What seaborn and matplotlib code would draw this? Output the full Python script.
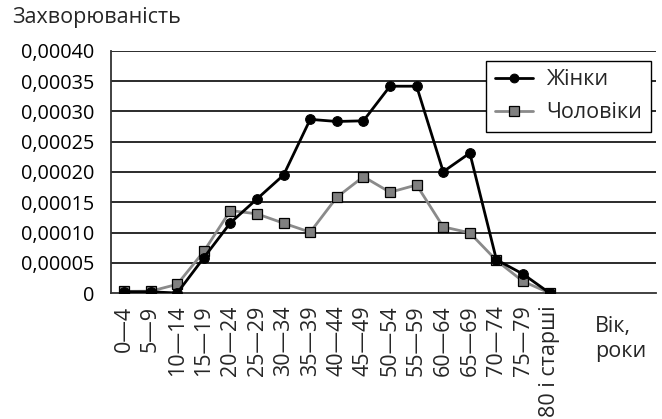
import matplotlib
matplotlib.use("Agg")
import matplotlib.pyplot as plt
import seaborn as sns
import pandas as pd
import numpy as np
from matplotlib.ticker import FuncFormatter, FixedLocator

categories = ["0—4", "5—9", "10—14", "15—19", "20—24", "25—29", "30—34", "35—39",
              "40—44", "45—49", "50—54", "55—59", "60—64", "65—69", "70—74", "75—79",
              "80 і старші"]
women = [0.000002, 0.000002, 0.0, 0.0000582, 0.000116, 0.0001555, 0.000195, 0.000287,
         0.0002835, 0.0002846, 0.0003418, 0.0003418, 0.0002005, 0.0002313, 0.000055,
         0.0000313, 0.0]
men = [0.0000027, 0.000003, 0.0000143, 0.0000687, 0.0001363, 0.0001308, 0.0001154,
       0.0001005, 0.0001582, 0.0001923, 0.0001665, 0.0001786, 0.0001093, 0.0000995,
       0.0000538, 0.0000192, 0.0]
series_names = ["Жінки", "Чоловіки"]
y_ticks = [0, 0.00005, 0.0001, 0.00015, 0.0002, 0.00025, 0.0003, 0.00035, 0.0004]

sns.set_theme(style="white")
plt.rcParams['font.family'] = ['Open Sans', 'DejaVu Sans']

df = pd.DataFrame({
    "idx": list(range(len(categories))) * 2,
    "value": women + men,
    "series": [series_names[0]] * len(women) + [series_names[1]] * len(men),
})

fig = plt.figure(figsize=(6.62, 4.19), dpi=100)
ax = fig.add_axes([0.1672, 0.3007, 0.8238, 0.5776])

fs = 15.5
for y in y_ticks[1:]:
    ax.axhline(y, color="#1a1a1a", lw=1.3, zorder=1)

sns.lineplot(data=df[df.series == series_names[1]], x="idx", y="value", ax=ax,
             color="#8a8a8a", lw=2, marker="s", markersize=7.5,
             markerfacecolor="#808080", markeredgecolor="#000000", markeredgewidth=0.9,
             label=series_names[1], zorder=3)
sns.lineplot(data=df[df.series == series_names[0]], x="idx", y="value", ax=ax,
             color="#000000", lw=2, marker="o", markersize=7,
             markerfacecolor="#000000", markeredgecolor="#000000",
             label=series_names[0], zorder=4)

ax.set_xlim(-0.5, 20.0)
ax.set_ylim(0, 0.0004)
ax.set_yticks(y_ticks)
ax.yaxis.set_major_formatter(FuncFormatter(lambda v, p: "0" if v == 0 else f"{v:.5f}".replace(".", ",")))
ax.xaxis.set_major_locator(FixedLocator(list(np.arange(-0.5, len(categories), 1.0))))
ax.set_xticklabels([])
ax.set_xticks(range(len(categories)), minor=True)
ax.set_xticklabels(categories, minor=True, rotation=90, fontsize=fs)
ax.tick_params(axis="x", which="major", length=6, width=1.2, color="#333333", direction="out")
ax.tick_params(axis="x", which="minor", length=0, pad=9)
ax.tick_params(axis="y", length=6.5, width=1.2, color="#333333", labelsize=14.3, pad=5)
ax.tick_params(labelcolor="#000000")

for s in ["top", "right"]:
    ax.spines[s].set_visible(False)
for s in ["left", "bottom"]:
    ax.spines[s].set_color("#333333")
    ax.spines[s].set_linewidth(1.3)

ax.set_xlabel("")
ax.set_ylabel("")

h, l = ax.get_legend_handles_labels()
leg = ax.legend(h[::-1], l[::-1], loc="upper left", bbox_to_anchor=(0.688, 0.960),
                fontsize=fs, frameon=True, fancybox=False, edgecolor="#000000",
                handlelength=1.8, borderpad=0.4, labelspacing=0.55, handletextpad=0.6,
                borderaxespad=0, markerscale=0.9)
leg.get_frame().set_linewidth(1.0)
leg.get_frame().set_alpha(1)

fig.text(12 / 662, 1 - 17 / 419, "Захворюваність", fontsize=fs, va="center", ha="left")
fig.text(595 / 662, 1 - 339 / 419, "Вік,\nроки", fontsize=fs, va="center", ha="left",
         linespacing=1.2)

fig.savefig("out.png", dpi=100)
